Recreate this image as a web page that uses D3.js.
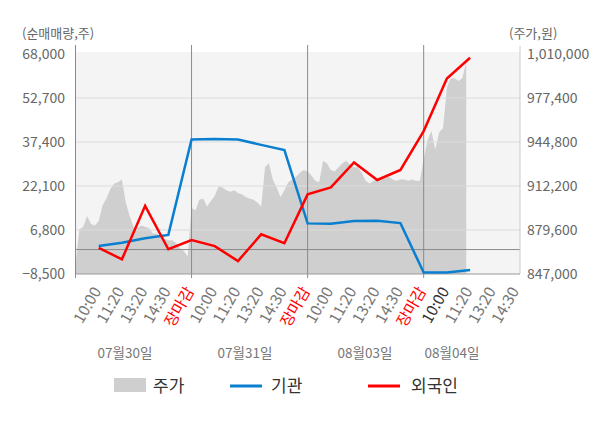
<!DOCTYPE html>
<html>
<head>
<meta charset="utf-8">
<script src="https://cdn.jsdelivr.net/npm/d3@7/dist/d3.min.js"></script>
<style>
    body { margin: 0; background: #fff; }
    svg text { font-family: "Noto Sans CJK KR", "Noto Sans", sans-serif; }
</style>
</head>
<body>
<div id="chart"></div>
<script>
// 날짜 (4일)
const dayLabels = ['07월30일', '07월31일', '08월03일', '08월04일'];

// x축 시간 라벨
const timeLabels = [
    '10:00', '11:20', '13:20', '14:30', '장마감',
    '10:00', '11:20', '13:20', '14:30', '장마감',
    '10:00', '11:20', '13:20', '14:30', '장마감',
    '10:00', '11:20', '13:20', '14:30'
];

// 주가 (원) - 일별 분봉 샘플
const price0730 = [854000, 880000, 882000, 890000, 884000, 883000, 886000, 898000, 903000, 910000,
                   914000, 915000, 917000, 900000, 890000, 882000, 881000, 883000, 882000, 881000,
                   877000, 877000, 874000, 873000, 872000, 872000, 870000, 866000, 864000, 860000];
const price0731 = [896000, 894000, 902000, 903000, 897000, 901000, 905000, 912000, 911000, 909000,
                   908000, 909000, 907000, 906000, 904000, 903000, 902000, 900000, 897000, 926000,
                   929000, 917000, 911000, 904000, 909000, 915000, 917000, 919000, 922000, 924000];
const price0803 = [923000, 920000, 916000, 915000, 931000, 929000, 924000, 923000, 926000, 929000,
                   931000, 928000, 926000, 926000, 922000, 916000, 914000, 916000, 917000, 919000,
                   918000, 919000, 917000, 916000, 917000, 917000, 916000, 917000, 916000, 916000];
const price0804 = [932000, 946000, 953000, 939000, 952000, 955000, 985000, 992000, 992000, 990000,
                   992000, 1004000];

// 순매매량 (주)
const instNet = [1200, 2400, 3900, 5100, 38300, 38400, 38300, 36400, 34600, 9100,
                 9000, 9900, 10000, 9200, -8000, -8000, -7100];
const foreignNet = [600, -3400, 15200, 100, 3300, 1200, -4000, 5300, 2200, 19200,
                    21600, 30300, 24200, 27700, 41200, 59500, 66700];

// 축 눈금
const leftTicks = [-8500, 6800, 22100, 37400, 52700, 68000];
const rightTicks = [847000, 879600, 912200, 944800, 977400, 1010000];

const W = 600, H = 428;
const plot = { left: 75.5, right: 520, top: 54, bottom: 274 };
const slotsPerDay = 5;      // 라벨 간격 단위
const samplesPerSlot = 6;   // 주가 샘플 간격

const svg = d3.select('#chart')
    .append('svg')
    .attr('width', W)
    .attr('height', H);

const x = d3.scaleLinear().domain([0, 19.15]).range([plot.left, plot.right]);
const yL = d3.scaleLinear().domain([-8500, 68000]).range([plot.bottom, plot.top]);
const yR = d3.scaleLinear().domain([847000, 1010000]).range([plot.bottom, plot.top]);

// 배경
svg.append('rect')
    .attr('x', plot.left)
    .attr('y', plot.top - 2)
    .attr('width', plot.right - plot.left)
    .attr('height', plot.bottom - plot.top + 2)
    .attr('fill', '#f4f4f4');

// 주가 데이터 위치 계산
const priceData = [];
[price0730, price0731, price0803, price0804].forEach((arr, d) => {
    arr.forEach((v, k) => {
        priceData.push({ pos: d * slotsPerDay + k / samplesPerSlot, value: v });
    });
});

const area = d3.area()
    .x(d => x(d.pos))
    .y0(yR(847000))
    .y1(d => yR(d.value));

svg.append('path')
    .datum(priceData)
    .attr('d', area)
    .attr('fill', '#cfcfcf');

// 그리드
svg.append('g')
    .selectAll('line')
    .data(leftTicks.slice(1, -1))
    .enter()
    .append('line')
    .attr('x1', plot.left)
    .attr('x2', plot.right)
    .attr('y1', d => yL(d))
    .attr('y2', d => yL(d))
    .attr('stroke', '#dcdcdc')
    .attr('stroke-width', 1);

// 0 기준선
svg.append('line')
    .attr('x1', plot.left)
    .attr('x2', plot.right)
    .attr('y1', yL(0))
    .attr('y2', yL(0))
    .attr('stroke', '#8a8a8a')
    .attr('stroke-width', 1);

// 일자 구분선
[1, 2, 3].forEach(d => {
    svg.append('line')
        .attr('x1', x(d * slotsPerDay))
        .attr('x2', x(d * slotsPerDay))
        .attr('y1', 45)
        .attr('y2', plot.bottom + 4)
        .attr('stroke', '#8a8a8a')
        .attr('stroke-width', 1);
});

// 축선
svg.append('line')
    .attr('x1', plot.left).attr('x2', plot.left)
    .attr('y1', 45).attr('y2', plot.bottom + 4)
    .attr('stroke', '#8a8a8a');
svg.append('line')
    .attr('x1', plot.right).attr('x2', plot.right)
    .attr('y1', 46).attr('y2', plot.bottom)
    .attr('stroke', '#cccccc');
svg.append('line')
    .attr('x1', plot.left).attr('x2', plot.right)
    .attr('y1', plot.bottom).attr('y2', plot.bottom)
    .attr('stroke', '#999999');

// y축 라벨
const fmt = d3.format(',');
svg.append('g')
    .selectAll('text')
    .data(leftTicks)
    .enter()
    .append('text')
    .attr('x', 65)
    .attr('y', d => yL(d))
    .attr('dy', '0.35em')
    .attr('text-anchor', 'end')
    .style('font-size', '14px')
    .style('fill', '#666')
    .text(d => fmt(d));

svg.append('g')
    .selectAll('text')
    .data(rightTicks)
    .enter()
    .append('text')
    .attr('x', 527)
    .attr('y', d => yR(d))
    .attr('dy', '0.35em')
    .attr('text-anchor', 'start')
    .style('font-size', '14px')
    .style('fill', '#666')
    .text(d => fmt(d));

svg.append('text')
    .attr('x', 22).attr('y', 38)
    .style('font-size', '13px')
    .style('fill', '#666')
    .text('(순매매량,주)');

svg.append('text')
    .attr('x', 509).attr('y', 38)
    .style('font-size', '13px')
    .style('fill', '#666')
    .text('(주가,원)');

// x축 시간 라벨
svg.append('g')
    .selectAll('text')
    .data(timeLabels)
    .enter()
    .append('text')
    .attr('transform', (d, i) => `translate(${x(i + 1) + 3},${plot.bottom + 17}) rotate(-60)`)
    .attr('text-anchor', 'end')
    .style('font-size', '15.5px')
    .style('fill', (d, i) => d === '장마감' ? '#ff0000' : (i === 15 ? '#333' : '#777'))
    .text(d => d);

// 날짜 라벨 (위치: 슬롯 단위)
const dayLabelPos = [2.13, 7.3, 12.47, 16.22];
svg.append('g')
    .selectAll('text')
    .data(dayLabels)
    .enter()
    .append('text')
    .attr('x', (d, i) => x(dayLabelPos[i]))
    .attr('y', 358)
    .attr('text-anchor', 'middle')
    .style('font-size', '13.5px')
    .style('fill', '#777')
    .text(d => d);

// 순매매 선
const line = d3.line()
    .x((d, i) => x(i + 1))
    .y(d => yL(d));

svg.append('path')
    .datum(instNet)
    .attr('d', line)
    .attr('fill', 'none')
    .attr('stroke', '#0a7fcf')
    .attr('stroke-width', 2.5);

svg.append('path')
    .datum(foreignNet)
    .attr('d', line)
    .attr('fill', 'none')
    .attr('stroke', '#ff0000')
    .attr('stroke-width', 2.5);

// 범례
const legend = svg.append('g');
legend.append('rect')
    .attr('x', 114).attr('y', 378)
    .attr('width', 32).attr('height', 14)
    .attr('fill', '#cfcfcf');
legend.append('text')
    .attr('x', 153).attr('y', 392)
    .style('font-size', '17px').style('fill', '#333')
    .text('주가');
legend.append('line')
    .attr('x1', 230).attr('x2', 262)
    .attr('y1', 386).attr('y2', 386)
    .attr('stroke', '#0a7fcf').attr('stroke-width', 3);
legend.append('text')
    .attr('x', 271).attr('y', 392)
    .style('font-size', '17px').style('fill', '#333')
    .text('기관');
legend.append('line')
    .attr('x1', 368).attr('x2', 400)
    .attr('y1', 386).attr('y2', 386)
    .attr('stroke', '#ff0000').attr('stroke-width', 3);
legend.append('text')
    .attr('x', 411).attr('y', 392)
    .style('font-size', '17px').style('fill', '#333')
    .text('외국인');
</script>
</body>
</html>
